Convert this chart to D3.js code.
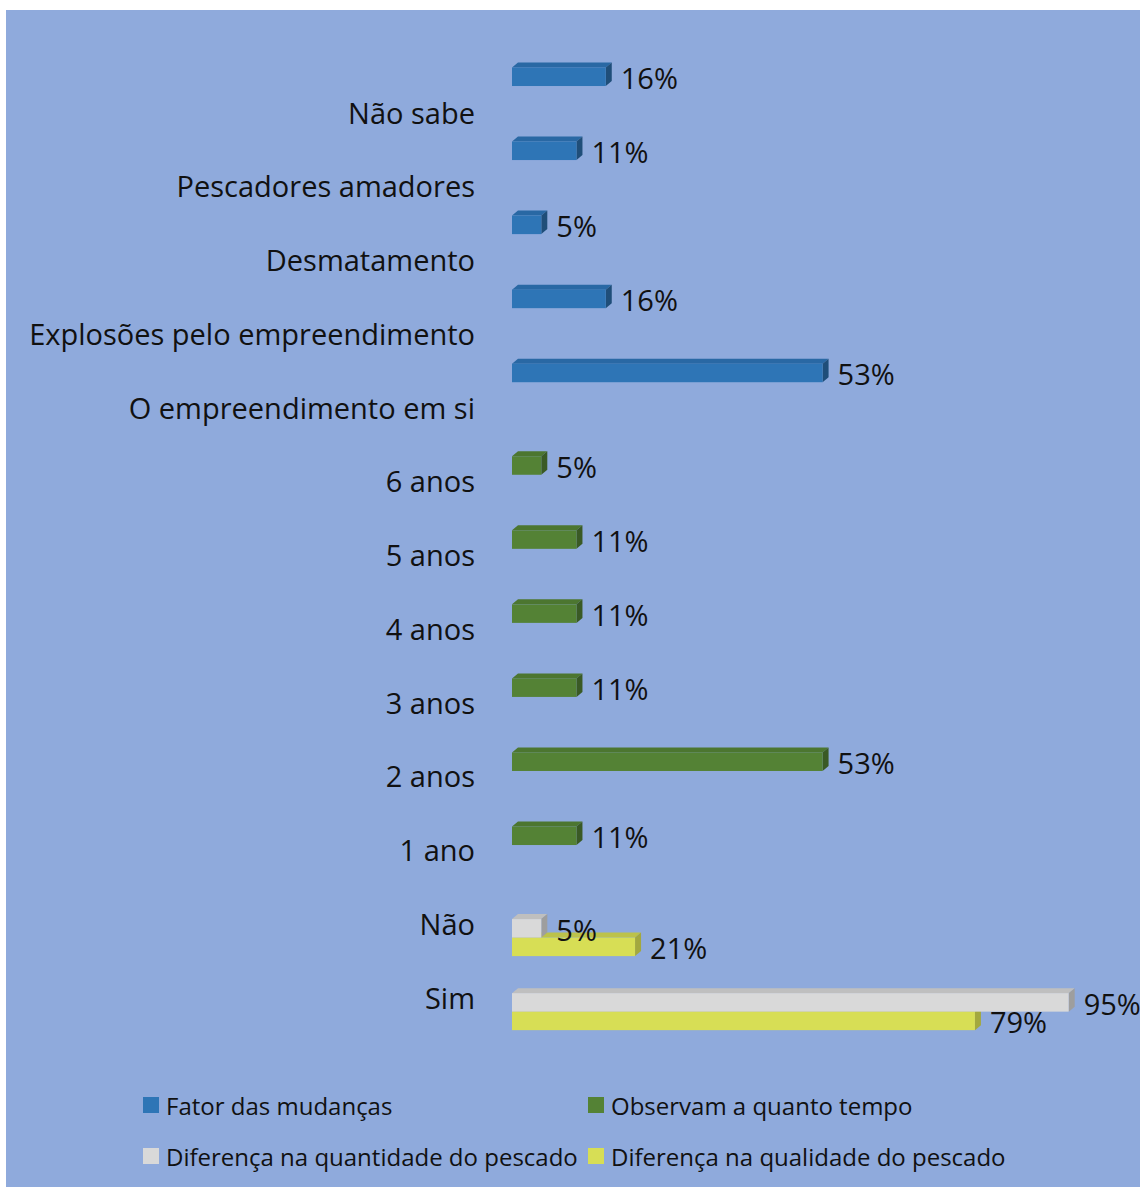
<!doctype html>
<html lang="pt">
<head>
  <meta charset="utf-8" />
  <title>Mudanças no pescado</title>
  <style>
    html, body {
      margin: 0;
      padding: 0;
      background: #fff;
    }
    svg {
      display: block;
      font-family: "Open Sans", "Noto Sans", sans-serif;
    }
  </style>
</head>
<body>

<script src="https://cdn.jsdelivr.net/npm/d3@7"></script>

<script>

// Data
var categories = [
  'Não sabe', 'Pescadores amadores', 'Desmatamento', 'Explosões pelo empreendimento',
  'O empreendimento em si', '6 anos', '5 anos', '4 anos', '3 anos', '2 anos', '1 ano',
  'Não', 'Sim'
];
var fatorMudancas   = [16, 11, 5, 16, 53, null, null, null, null, null, null, null, null];
var observamTempo   = [null, null, null, null, null, 5, 11, 11, 11, 53, 11, null, null];
var difQuantidade   = [null, null, null, null, null, null, null, null, null, null, null, 5, 95];
var difQualidade    = [null, null, null, null, null, null, null, null, null, null, null, 21, 79];

var seriesNames = [
  'Fator das mudanças',
  'Observam a quanto tempo',
  'Diferença na quantidade do pescado',
  'Diferença na qualidade do pescado'
];
var seriesValues = [fatorMudancas, observamTempo, difQuantidade, difQualidade];
var seriesColors = [
  { front: '#2E75B6', top: '#2968A4', side: '#1F4E79' },
  { front: '#548235', top: '#4C7630', side: '#3A5A25' },
  { front: '#D9D9D9', top: '#BFBFBF', side: '#9E9E9E' },
  { front: '#D7DE55', top: '#BCC24A', side: '#A3A83E' }
];

// SVG Container
var width = 1140, height = 1187;
var svg = d3.select('body').append('svg')
  .attr('width', width)
  .attr('height', height);

svg.append('rect')
  .attr('x', 6).attr('y', 10)
  .attr('width', width - 6).attr('height', height - 10)
  .attr('fill', '#8FAADC');

// Scales
var y = d3.scaleBand()
  .domain(categories)
  .range([67.5, 67.5 + 13 * 74.05])
  .padding(0);

var ySeries = d3.scaleBand()
  .domain(d3.range(seriesNames.length))
  .range([0, y.bandwidth()])
  .padding(0);

// category label positions (slightly offset from the bar groups, as in the chart)
var yLabel = d3.scalePoint()
  .domain(categories)
  .range([112, 997]);

var x = d3.scaleLinear()
  .domain([0, 100])
  .range([512, 1098]);

var dx = 6, dy = 5;

// Category labels
svg.append('g')
  .selectAll('text')
  .data(categories)
  .enter()
  .append('text')
  .attr('x', 475)
  .attr('y', function (d) { return yLabel(d); })
  .attr('text-anchor', 'end')
  .attr('dominant-baseline', 'central')
  .attr('font-size', 29)
  .attr('fill', '#111')
  .text(function (d) { return d; });

// Bars, drawn back to front (last series first)
var bars = [];
seriesValues.forEach(function (values, s) {
  values.forEach(function (v, i) {
    if (v != null) bars.push({ s: s, cat: categories[i], v: v });
  });
});
bars.sort(function (a, b) { return b.s - a.s; });

var barG = svg.append('g');
bars.forEach(function (d) {
  var c = seriesColors[d.s];
  var x0 = x(0), x1 = x(d.v);
  var y0 = y(d.cat) + ySeries(d.s);
  var h = ySeries.bandwidth();
  var g = barG.append('g');
  g.append('polygon')
    .attr('points', [[x0, y0], [x0 + dx, y0 - dy], [x1 + dx, y0 - dy], [x1, y0]].join(' '))
    .attr('fill', c.top);
  g.append('polygon')
    .attr('points', [[x1, y0], [x1 + dx, y0 - dy], [x1 + dx, y0 + h - dy], [x1, y0 + h]].join(' '))
    .attr('fill', c.side);
  g.append('rect')
    .attr('x', x0).attr('y', y0)
    .attr('width', x1 - x0).attr('height', h)
    .attr('fill', c.front);
});

// Value labels
svg.append('g')
  .selectAll('text')
  .data(bars)
  .enter()
  .append('text')
  .attr('x', function (d) { return x(d.v) + 15; })
  .attr('y', function (d) { return y(d.cat) + ySeries(d.s) + ySeries.bandwidth() / 2 + 1; })
  .attr('dominant-baseline', 'central')
  .attr('font-size', 29)
  .attr('fill', '#111')
  .text(function (d) { return d.v + '%'; });

// Legend
var legendPos = [[143, 1105], [588, 1105], [143, 1156], [588, 1156]];
var legend = svg.append('g')
  .selectAll('g')
  .data(seriesNames)
  .enter()
  .append('g')
  .attr('transform', function (d, i) {
    return 'translate(' + legendPos[i][0] + ',' + legendPos[i][1] + ')';
  });

legend.append('rect')
  .attr('x', 0).attr('y', -8)
  .attr('width', 16).attr('height', 16)
  .attr('fill', function (d, i) { return seriesColors[i].front; });

legend.append('text')
  .attr('x', 23)
  .attr('y', 0)
  .attr('dominant-baseline', 'central')
  .attr('font-size', 24)
  .attr('fill', '#111')
  .text(function (d) { return d; });

</script>

</body>
</html>
